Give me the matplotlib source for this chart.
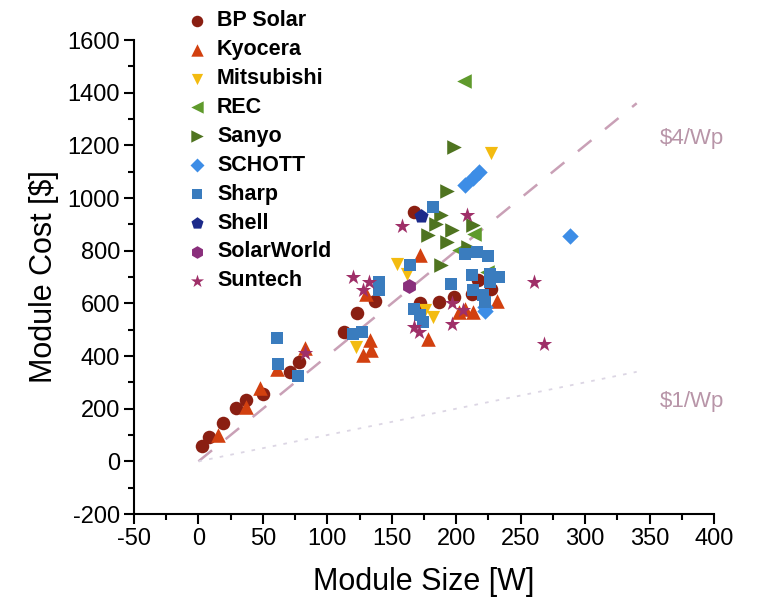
import numpy as np
import matplotlib.pyplot as plt

plt.rcParams['font.family'] = ['Liberation Sans', 'DejaVu Sans']
plt.rcParams['axes.unicode_minus'] = False

# 各厂商数据 (组件功率 W, 组件价格 $)
bp_x = [3, 8, 19, 29, 37, 50, 71, 78, 113, 123, 137, 167, 172, 187, 198, 212, 217, 227]
bp_y = [57, 91, 144, 201, 232, 255, 341, 379, 492, 565, 610, 948, 600, 605, 625, 636, 689, 655]

kyo_x = [15, 37, 48, 61, 83, 128, 134, 133, 130, 172, 178, 202, 207, 213, 232]
kyo_y = [100, 207, 278, 350, 430, 405, 424, 462, 635, 785, 466, 568, 580, 568, 610]

mit_x = [122, 154, 162, 176, 182, 227]
mit_y = [435, 750, 710, 576, 549, 1170]

rec_x = [206, 202, 214, 224]
rec_y = [1445, 803, 864, 720]

san_x = [198, 193, 188, 184, 178, 197, 193, 209, 213, 188]
san_y = [1195, 1028, 935, 902, 860, 879, 833, 814, 898, 746]

sch_x = [207, 213, 218, 288, 222, 222]
sch_y = [1050, 1075, 1100, 855, 587, 572]

sha_x = [61, 62, 77, 120, 127, 140, 140, 164, 182, 167, 172, 174, 196,
         212, 226, 233, 226, 213, 221, 222, 207, 216, 225]
sha_y = [470, 370, 325, 485, 490, 680, 650, 745, 965, 580, 557, 530, 672,
         708, 712, 701, 682, 651, 632, 606, 788, 795, 780]

she_x = [173]
she_y = [930]

sw_x = [163]
sw_y = [665]

sun_x = [83, 120, 132, 128, 158, 208, 167, 171, 197, 197, 205, 260, 268]
sun_y = [410, 700, 680, 650, 895, 935, 511, 492, 600, 520, 575, 680, 445]

series = [
    ('BP Solar', bp_x, bp_y, 'o', '#8a1f12', 95),
    ('Kyocera', kyo_x, kyo_y, '^', '#d2400f', 110),
    ('Mitsubishi', mit_x, mit_y, 'v', '#f3bb10', 90),
    ('REC', rec_x, rec_y, '<', '#5f9a2c', 110),
    ('Sanyo', san_x, san_y, '>', '#4f7420', 110),
    ('SCHOTT', sch_x, sch_y, 'D', '#3d8de6', 70),
    ('Sharp', sha_x, sha_y, 's', '#3a7cbe', 75),
    ('Shell', she_x, she_y, 'p', '#1c2a8a', 115),
    ('SolarWorld', sw_x, sw_y, 'h', '#8a2f7c', 115),
    ('Suntech', sun_x, sun_y, '*', '#9f2f68', 135),
]

# 参考线 ($/Wp)
line_x = np.array([0, 340])
rate_hi = 4
rate_lo = 1

fig = plt.figure(figsize=(7.72, 6.07), dpi=100)
ax = fig.add_axes([0.1736, 0.1532, 0.7513, 0.7808])

ax.plot(line_x, rate_hi * line_x, color='#c9a0b6', lw=1.8, ls=(0, (7, 7)), zorder=1)
ax.plot(line_x, rate_lo * line_x, color='#dcd6e4', lw=1.3, ls=(0, (2, 4)), zorder=1)

for name, xs, ys, m, c, s in series:
    ax.scatter(xs, ys, marker=m, color=c, s=s, linewidths=0, label=name, zorder=3)

ax.text(383, 1225, '$4/Wp', color='#b895a8', fontsize=16, ha='center', va='center')
ax.text(383, 228, '$1/Wp', color='#b895a8', fontsize=16, ha='center', va='center')

ax.set_xlim(-50, 400)
ax.set_ylim(-200, 1600)
ax.set_xticks(np.arange(-50, 401, 50))
ax.set_yticks(np.arange(-200, 1601, 200))
ax.set_xticks(np.arange(-25, 400, 50), minor=True)
ax.set_yticks(np.arange(-100, 1600, 200), minor=True)
ax.tick_params(which='major', length=7, width=1.5, labelsize=17, pad=3)
ax.tick_params(which='minor', length=4, width=1.5)
for side in ['top', 'right']:
    ax.spines[side].set_visible(False)
for side in ['left', 'bottom']:
    ax.spines[side].set_linewidth(1.5)

ax.set_xlabel('Module Size [W]', fontsize=22, labelpad=12)
ax.set_ylabel('Module Cost [$]', fontsize=22, labelpad=6)

leg = ax.legend(loc='upper left', bbox_to_anchor=(0.231, 0.997), bbox_transform=fig.transFigure,
                frameon=False, prop={'weight': 'bold', 'size': 15.5},
                handletextpad=0.5, labelspacing=0.366, borderaxespad=0, handlelength=0.9,
                scatterpoints=1, markerscale=0.85)

plt.savefig('out.png', dpi=100)
